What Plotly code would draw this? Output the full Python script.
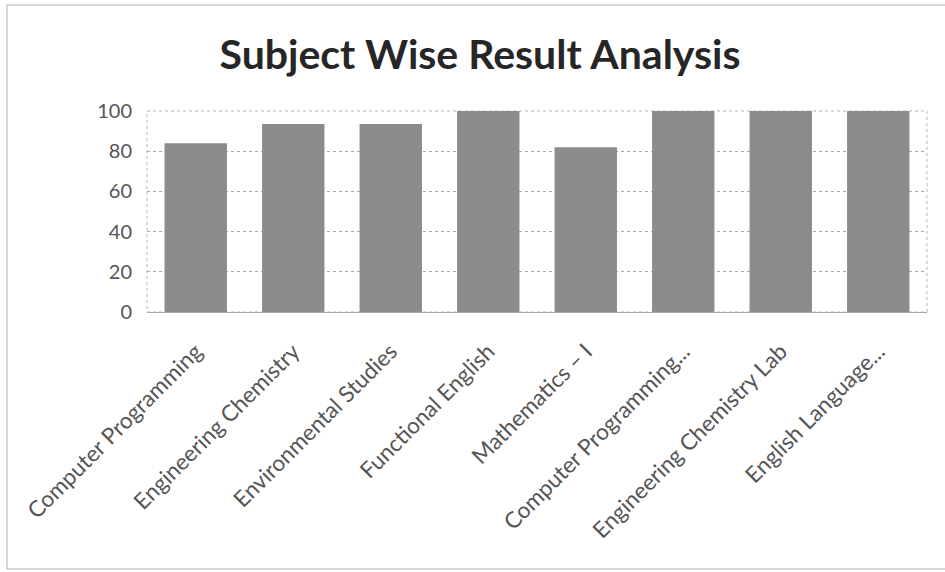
import plotly.graph_objects as go

categories = [
    "Computer Programming",
    "Engineering Chemistry",
    "Environmental Studies",
    "Functional English",
    "Mathematics – I",
    "Computer Programming...",
    "Engineering Chemistry Lab",
    "English Language...",
]
values = [84, 93.5, 93.5, 100, 82, 100, 100, 100]
y_ticks = [0, 20, 40, 60, 80, 100]

W, H = 945, 572
ml, mr, mt, mb = 147, 18, 111, 260

fig = go.Figure(
    go.Bar(
        x=categories,
        y=values,
        marker=dict(color="#8c8c8c", line=dict(width=0)),
    )
)

pw = W - ml - mr
ph = H - mt - mb

fig.update_layout(
    width=W,
    height=H,
    margin=dict(l=ml, r=mr, t=mt, b=mb),
    paper_bgcolor="white",
    plot_bgcolor="white",
    bargap=0.36,
    showlegend=False,
    title=dict(
        text="<b>Subject Wise Result Analysis</b>",
        x=480 / W,
        xanchor="center",
        y=1 - 55 / H,
        yanchor="middle",
        font=dict(family="Lato", size=41, color="#262626"),
    ),
    font=dict(family="Lato", color="#555555"),
    xaxis=dict(
        tickangle=-45,
        tickfont=dict(family="Lato", size=22.5, color="#555555"),
        showgrid=False,
        showline=False,
        ticks="",
        ticklabelstandoff=21,
    ),
    yaxis=dict(
        range=[0, 100],
        tickvals=y_ticks,
        tickfont=dict(family="Lato", size=20, color="#555555"),
        showgrid=True,
        gridcolor="#a8a8a8",
        gridwidth=1,
        griddash="dot",
        zeroline=True,
        zerolinecolor="#a8a8a8",
        zerolinewidth=1,
        showline=False,
        ticks="",
        ticklabelstandoff=14,
    ),
    shapes=[
        dict(
            type="rect",
            xref="paper",
            yref="paper",
            x0=(7 - ml) / pw,
            x1=(W + 5 - ml) / pw,
            y0=(H - 569 - mb) / ph,
            y1=(H - 5 - mb) / ph,
            line=dict(color="#b0b0b0", width=1),
            layer="below",
        ),
        dict(
            type="rect",
            xref="paper",
            yref="paper",
            x0=0,
            x1=1,
            y0=0,
            y1=1,
            line=dict(color="#b5b5b5", width=1, dash="dot"),
            layer="below",
        ),
    ],
)

fig.write_html(
    "out.html",
    config={"displayModeBar": False},
    post_script="document.body.style.margin='0';document.body.style.padding='0';",
)
